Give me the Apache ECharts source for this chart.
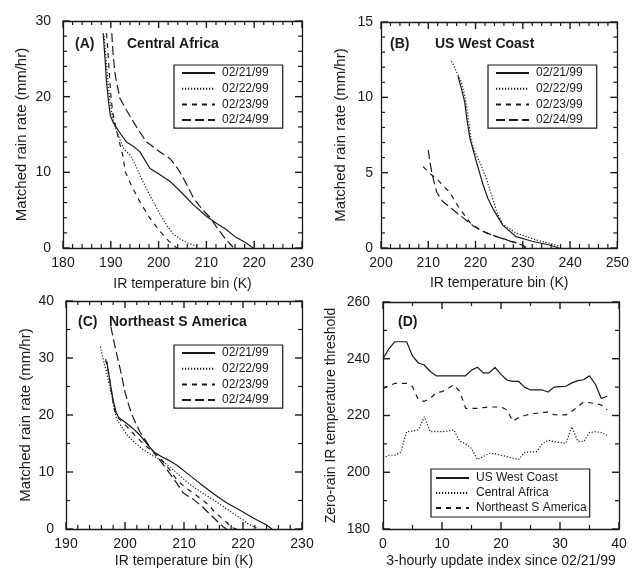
<!DOCTYPE html>
<html>
<head>
<meta charset="utf-8">
<script src="https://cdn.jsdelivr.net/npm/echarts@6/dist/echarts.min.js"></script>
<style>
html,body{margin:0;padding:0;background:#fff;}
#c{width:632px;height:572px;}
</style>
</head>
<body>
<div id="c"></div>
<script>
// ---------- DATA ----------
const panelTitles = ['Central Africa', 'US West Coast', 'Northeast S America'];
const panelTags = ['(A)', '(B)', '(C)', '(D)'];
const dateNames = ['02/21/99', '02/22/99', '02/23/99', '02/24/99'];
const regionNames = ['US West Coast', 'Central Africa', 'Northeast S America'];

// Panel A: Central Africa  [IR temperature bin (K), matched rain rate (mm/hr)]
const africa0221 = [[188.4,28.4],[188.8,25],[189.1,22],[189.5,19.5],[189.9,17.5],[190.5,16.6],[191.8,15.3],[193.3,14],[195,13.3],[196.1,12.7],[198.2,10.5],[200,9.8],[202.4,8.8],[205,7.2],[207.3,5.7],[210,4.2],[212,3.3],[214,2.5],[216,1.5],[218,0.8],[219.8,0]];
const africa0222 = [[188.6,28],[189,25],[189.4,22],[189.8,19.5],[190.3,17.5],[190.9,16],[191.8,14.5],[192.8,13],[194,12.3],[195,11.2],[196.1,9.6],[197.5,7.8],[198.9,6.1],[200.3,4.5],[201.7,3.0],[203,1.9],[204.5,1.2],[206,0.7],[208,0.2]];
const africa0223 = [[189.1,28.4],[189.5,25],[189.8,22],[190.1,19.5],[190.5,17.6],[191.2,15.5],[192,13.5],[192.6,12],[193,10.1],[194.5,8],[196.1,6.1],[198,4.1],[200.3,2.2],[202,1.0],[203.8,0]];
const africa0224 = [[190.2,28.4],[190.5,25.5],[190.9,22.9],[191.9,19.8],[193.3,18.2],[194.7,16.7],[196.1,15.3],[197.5,14],[200.3,12.7],[202.4,11.8],[204,10.5],[205.2,9.2],[207.3,6.6],[209,5.2],[210.8,4],[212.1,2.8],[214,1.2],[215.6,0.1]];

// Panel B: US West Coast
const west0221 = [[216.3,11.4],[217,10.6],[217.7,9.7],[218.2,8.5],[218.8,7.3],[220.2,5.7],[221.6,4.2],[222.6,3.3],[223.7,2.6],[225.8,1.5],[228.6,0.75],[232,0.45],[235.6,0.2],[237.7,0]];
const west0222 = [[214.9,12.4],[216,11.7],[217,11],[217.8,10],[218.4,8.8],[219.1,7.1],[220.1,6.2],[220.9,5.7],[222.3,4.6],[222.9,4.0],[223.7,3.2],[224.5,2.4],[225.7,1.6],[228.5,1.0],[232.7,0.55],[237,0.2],[238.4,0]];
const west0223 = [[208.9,5.4],[210.5,4.9],[211.8,4.6],[213.2,4.1],[214.6,3.7],[215.6,3.1],[216.7,2.6],[218.8,1.7],[220.5,1.3],[222.3,1.0],[225,0.7],[227.1,0.5],[229.9,0.2],[231,0]];
const west0224 = [[210,6.5],[210.3,5.8],[210.7,5.1],[211.2,4.4],[211.8,3.7],[213,3.1],[214.6,2.7],[217.4,2.0],[219.4,1.5],[221.6,1.1],[224,0.8],[226.4,0.55],[229.9,0.2],[230.6,0]];

// Panel C: Northeast S America
const nesa0221 = [[196.9,29.5],[197.2,27.5],[197.6,25],[198,22.5],[198.5,20.5],[198.9,19.6],[200.3,18.5],[201.4,17.6],[202.5,16.5],[203.5,15.2],[204.8,13.6],[206,12.8],[207.5,12],[208.8,11.2],[210.5,9.8],[212.7,8],[215,6.2],[217.2,4.6],[219.5,3.3],[221.8,1.9],[224,0.7],[224.9,0]];
const nesa0222 = [[195.8,32],[196.5,29],[197,27],[197.6,24],[198.1,21.5],[198.6,19.2],[199.5,17.8],[200.5,16.3],[201.5,15.3],[203.1,13.9],[204.5,13],[206,12.1],[207.5,11],[208.8,9.8],[210.2,8.5],[211.6,7.4],[213.3,6.2],[215,5.1],[216.7,3.9],[218.4,2.7],[220,1.6],[221,0.8],[222.3,0.2]];
const nesa0223 = [[196.7,29.8],[197.3,27],[197.8,23.5],[198.2,21],[198.8,19.5],[200.3,18],[201.6,16.5],[203.1,15],[204.5,13.7],[206,12.4],[207.5,10.5],[208.8,8.6],[210.2,7.3],[211.6,6.3],[213,5.2],[214.2,4.2],[215.2,3.0],[216.3,2.0],[217.3,1.1],[218,0.3],[218.9,0]];
const nesa0224 = [[197.6,35.5],[198.3,32],[199.2,28],[200,24],[200.7,21.5],[201.4,19.5],[202.5,17.1],[204.2,14.4],[205.9,12.1],[208.2,8.9],[209.9,6.3],[211.6,5.2],[213,4.0],[214.5,2.5],[215.5,1.5],[216.5,0.5],[217.2,0]];

// Panel D: zero-rain IR temperature threshold by 3-hourly update index 0..38
const updateIndex = [0,1,2,3,4,5,6,7,8,9,10,11,12,13,14,15,16,17,18,19,20,21,22,23,24,25,26,27,28,29,30,31,32,33,34,35,36,37,38];
const thrWest   = [240,243.5,246,246,246,241,238.5,237.8,235.5,234,234,234,234,234,234,236,237,235,235,237,234.5,232.5,232,232,230,229,229,229,228.3,230,230.2,230.3,231.5,232.3,232.6,234,231,226,226.8];
const thrAfrica = [205,206,206,207,214.3,214.5,215,219.6,214.3,214.3,214.3,214.5,214.9,211,210,208.4,204.5,205.5,206.7,206.5,206,205.5,205,204.5,207,207.2,207.2,210,211.3,210.8,210.5,210.2,216,211,210.8,214,214.3,214,213];
const thrNESA   = [229.5,230.5,231.3,231.3,231.3,230.2,225.5,225,226,228,228.4,229.5,230.8,228.5,222.5,222.5,222.5,222.8,223,223,223,222,218,219.3,220,220.5,220.8,221,221.3,220.3,220.2,220.2,221.5,223,224.8,224.5,224.2,223.7,222];

// ---------- STYLE ----------
const INK = '#1a1a1a';
const FONT = '"Liberation Sans", Arial, Helvetica, sans-serif';
const dashStyles = ['solid', [1.2, 1.8], [5, 5], [9, 4]];
const regionDash = ['solid', [1.2, 1.8], [5, 5]];
const MAJOR_LEN = 7, MINOR_LEN = 4;

const grids = [
  {left: 63,  top: 21,  width: 239, height: 227},
  {left: 381, top: 22,  width: 237, height: 226},
  {left: 66,  top: 301, width: 236, height: 228},
  {left: 383, top: 302, width: 236, height: 227}
];

const axisDefs = [
  {x: {min: 180, max: 230, interval: 10, minor: 5}, y: {min: 0, max: 30, interval: 10, minor: 5},
   xName: 'IR temperature bin (K)', yName: 'Matched rain rate (mm/hr)', xGap: 29, yGap: 34, yMargin: 12, yNameSize: 15},
  {x: {min: 200, max: 250, interval: 10, minor: 5}, y: {min: 0, max: 15, interval: 5, minor: 5},
   xName: 'IR temperature bin (K)', yName: 'Matched rain rate (mm/hr)', xGap: 28, yGap: 33, yMargin: 8, yNameSize: 15},
  {x: {min: 190, max: 230, interval: 10, minor: 5}, y: {min: 0, max: 40, interval: 10, minor: 2},
   xName: 'IR temperature bin (K)', yName: 'Matched rain rate (mm/hr)', xGap: 25, yGap: 33, yMargin: 12, yNameSize: 15},
  {x: {min: 0, max: 40, interval: 10, minor: 2}, y: {min: 180, max: 260, interval: 20, minor: 2},
   xName: '3-hourly update index since 02/21/99', yName: 'Zero-rain IR temperature threshold', xGap: 25, yGap: 45, yMargin: 13, yNameSize: 14}
];

function baseAxis(spec, gridIndex, position, showLabels) {
  return {
    type: 'value', gridIndex: gridIndex, position: position,
    min: spec.min, max: spec.max, interval: spec.interval,
    axisLine: {show: true, onZero: false, lineStyle: {color: INK, width: 1.3}},
    axisTick: {show: false},
    minorTick: {show: false},
    splitLine: {show: false},
    axisLabel: {show: showLabels, color: INK, fontFamily: FONT, fontSize: 14}
  };
}

const xAxes = [], yAxes = [];
axisDefs.forEach((d, i) => {
  const xa = baseAxis(d.x, i, 'bottom', true);
  xa.name = d.xName; xa.nameLocation = 'middle'; xa.nameGap = d.xGap;
  xa.nameTextStyle = {color: INK, fontFamily: FONT, fontSize: 14};
  xa.axisLabel.margin = 8;
  xAxes.push(xa);
  const ya = baseAxis(d.y, i, 'left', true);
  ya.name = d.yName; ya.nameLocation = 'middle'; ya.nameGap = d.yGap;
  ya.nameTextStyle = {color: INK, fontFamily: FONT, fontSize: d.yNameSize};
  ya.axisLabel.margin = d.yMargin;
  yAxes.push(ya);
});
axisDefs.forEach((d, i) => {
  xAxes.push(baseAxis(d.x, i, 'top', false));
  yAxes.push(baseAxis(d.y, i, 'right', false));
});

function lineSeries(name, data, dash, gi) {
  return {
    type: 'line', name: name, data: data, xAxisIndex: gi, yAxisIndex: gi,
    symbol: 'none', smooth: false,
    lineStyle: {color: INK, width: 1.2, type: dash},
    itemStyle: {color: INK}
  };
}

const panelSets = [
  [africa0221, africa0222, africa0223, africa0224],
  [west0221, west0222, west0223, west0224],
  [nesa0221, nesa0222, nesa0223, nesa0224]
];
const series = [];
panelSets.forEach((set, gi) => {
  set.forEach((data, k) => series.push(lineSeries(dateNames[k], data, dashStyles[k], gi)));
});
const pairs = (ys) => updateIndex.map((x, i) => [x, ys[i]]);
series.push(lineSeries(regionNames[0], pairs(thrWest), regionDash[0], 3));
series.push(lineSeries(regionNames[1], pairs(thrAfrica), regionDash[1], 3));
series.push(lineSeries(regionNames[2], pairs(thrNESA), regionDash[2], 3));

// ---------- KEYS ----------
function legendAt(left, top, names, gap, padding) {
  return {
    data: names, orient: 'vertical', left: left, top: top,
    itemWidth: 33, itemHeight: 14, itemGap: gap,
    padding: padding,
    borderColor: INK, borderWidth: 1.2, backgroundColor: '#fff',
    selectedMode: false,
    itemStyle: {color: 'transparent', borderWidth: 0, opacity: 0},
    textStyle: {color: INK, fontFamily: FONT, fontSize: 12, lineHeight: 14, padding: [0, 0, 0, 2]}
  };
}
const legends = [
  legendAt(174, 65, dateNames, 1.7, [1, 14, 1, 7]),
  legendAt(488, 65, dateNames, 1.7, [1, 14, 1, 7]),
  legendAt(174, 345, dateNames, 1.7, [1, 14, 1, 7]),
  legendAt(431, 469, regionNames, 1, [2, 3, 2, 4])
];

// ---------- PANEL TITLES ----------
const ttl = (x, y, text) => ({text: text, left: x, top: y, padding: 0,
  textStyle: {color: INK, fontFamily: FONT, fontSize: 14, fontWeight: 'bold'}});
const titles = [
  ttl(75, 37, panelTags[0]), ttl(127, 37, panelTitles[0]),
  ttl(390, 37, panelTags[1]), ttl(435, 37, panelTitles[1]),
  ttl(78, 315, panelTags[2]), ttl(109, 315, panelTitles[2]),
  ttl(398, 315, panelTags[3])
];

const chart = echarts.init(document.getElementById('c'), null, {renderer: 'canvas'});
chart.setOption({
  backgroundColor: '#fff',
  animation: false,
  title: titles,
  grid: grids,
  xAxis: xAxes,
  yAxis: yAxes,
  legend: legends,
  series: series
});

// ---------- INWARD TICKS ON ALL FOUR SIDES (positions from the chart's own axis scales) ----------
function tickList(spec) {
  const out = [];
  const step = spec.interval / spec.minor;
  const n = Math.round((spec.max - spec.min) / step);
  for (let k = 0; k <= n; k++) out.push({v: spec.min + k * step, major: k % spec.minor === 0});
  return out;
}
const tickEls = [];
function tick(x1, y1, x2, y2, w) {
  tickEls.push({type: 'line', silent: true, z: 5,
    shape: {x1: x1, y1: y1, x2: x2, y2: y2},
    style: {stroke: INK, lineWidth: w}});
}
axisDefs.forEach((d, i) => {
  const left = chart.convertToPixel({xAxisIndex: i}, d.x.min);
  const right = chart.convertToPixel({xAxisIndex: i}, d.x.max);
  const bottom = chart.convertToPixel({yAxisIndex: i}, d.y.min);
  const top = chart.convertToPixel({yAxisIndex: i}, d.y.max);
  tickList(d.x).forEach(t => {
    const px = chart.convertToPixel({xAxisIndex: i}, t.v);
    const len = t.major ? MAJOR_LEN : MINOR_LEN;
    const w = t.major ? 1.4 : 1.2;
    tick(px, bottom, px, bottom - len, w);
    tick(px, top, px, top + len, w);
  });
  tickList(d.y).forEach(t => {
    const py = chart.convertToPixel({yAxisIndex: i}, t.v);
    const len = t.major ? MAJOR_LEN : MINOR_LEN;
    const w = t.major ? 1.4 : 1.2;
    tick(left, py, left + len, py, w);
    tick(right, py, right - len, py, w);
  });
});
chart.setOption({graphic: {elements: tickEls}});
</script>
</body>
</html>
